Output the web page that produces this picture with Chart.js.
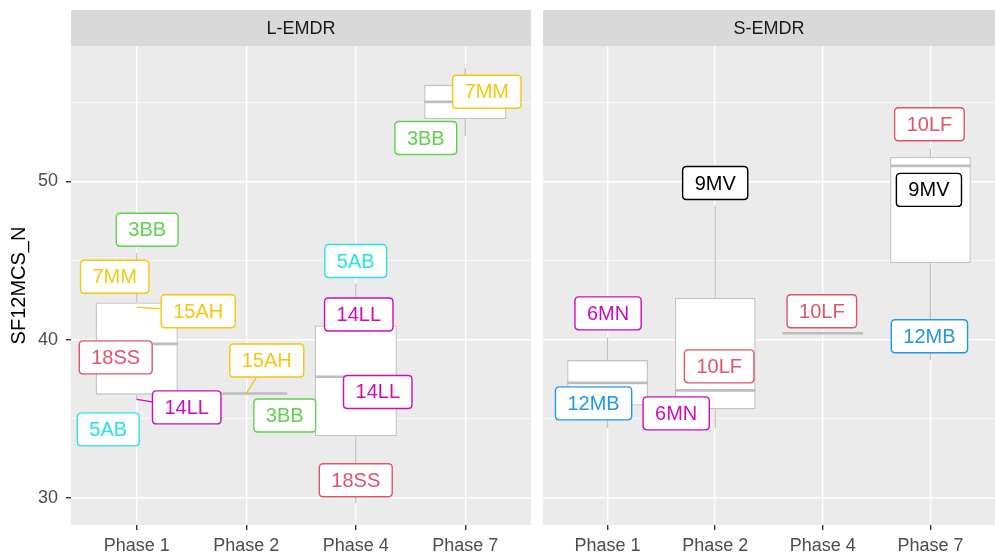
<!DOCTYPE html>
<html>
<head>
<meta charset="utf-8">
<script src="https://cdn.jsdelivr.net/npm/chart.js@4/dist/chart.umd.min.js"></script>
<style>
  html, body { margin: 0; padding: 0; background: #fff; }
  #wrap { position: relative; width: 995px; height: 555px; }
  canvas { position: absolute; top: 0; }
</style>
</head>
<body>
<div id="wrap">
  <canvas id="left" width="531" height="555" style="left:0"></canvas>
  <canvas id="right" width="464" height="555" style="left:531px"></canvas>
</div>
<script>
const phases = ['Phase 1', 'Phase 2', 'Phase 4', 'Phase 7'];
const panels = ['L-EMDR', 'S-EMDR'];
const yTicks = [30, 40, 50];
const yMinor = [35, 45, 55];

// L-EMDR observations (phase index 1..4, participant, score)
const lPhase = [1, 1, 1, 1, 1, 1, 2, 2, 3, 3, 3, 3, 4, 4];
const lId = ['3BB', '7MM', '15AH', '18SS', '14LL', '5AB', '15AH', '3BB', '5AB', '14LL', '14LL', '18SS', '7MM', '3BB'];
const lValue = [45.49, 42.46, 42.05, 37.43, 36.23, 36.17, 36.6, 36.6, 43.55, 40.01, 35.31, 29.67, 57.18, 52.87];

// S-EMDR observations
const sPhase = [1, 1, 2, 2, 2, 3, 4, 4, 4];
const sId = ['6MN', '12MB', '9MV', '10LF', '6MN', '10LF', '10LF', '9MV', '12MB'];
const sValue = [40.15, 34.4, 48.48, 36.8, 34.4, 40.41, 52.1, 50.98, 38.7];

// where the repelled labels sit, relative to their point (px)
const lNudge = [[10.5, -23], [-22, -24], [61.5, 4], [-21, -23], [50, 8], [-28.5, 29], [20.5, -33], [38.5, 22],
                [0, -22.5], [3, -25], [22, -22], [0, -23], [21.5, 24], [-39.5, 2]];
const sNudge = [[0.5, -24], [-14, -25], [0, -22.5], [4, -24], [-39, -15], [-1, -22], [-1, -24], [-1.5, 24], [-1, -24]];

const idColors = {
    '9MV': '#000000', '18SS': '#DF536B', '10LF': '#DF536B', '3BB': '#61D04F', '12MB': '#2297E6',
    '5AB': '#28E2E5', '14LL': '#CD0BBC', '6MN': '#CD0BBC', '7MM': '#F5C710', '15AH': '#F5C710'
};

const FONT = '"Liberation Sans", Arial, sans-serif';
const boxLine = '#C2C2C2';

const allValues = lValue.concat(sValue);
const dMin = Math.min(...allValues), dMax = Math.max(...allValues);
const yMin = dMin - (dMax - dMin) * 0.05;
const yMax = dMax + (dMax - dMin) * 0.05;

function quantile(sorted, p) {
    const h = (sorted.length - 1) * p;
    const lo = Math.floor(h);
    const hi = Math.min(lo + 1, sorted.length - 1);
    return sorted[lo] + (h - lo) * (sorted[hi] - sorted[lo]);
}

function boxStats(phaseArr, valArr) {
    return phases.map((p, i) => {
        const v = valArr.filter((_, k) => phaseArr[k] === i + 1).sort((a, b) => a - b);
        const q1 = quantile(v, 0.25), med = quantile(v, 0.5), q3 = quantile(v, 0.75);
        const iqr = q3 - q1;
        const inside = v.filter(d => d >= q1 - 1.5 * iqr && d <= q3 + 1.5 * iqr);
        return { q1, med, q3, lo: Math.min(...inside), hi: Math.max(...inside) };
    });
}

function roundRect(ctx, x, y, w, h, r) {
    ctx.beginPath();
    ctx.moveTo(x + r, y);
    ctx.lineTo(x + w - r, y);
    ctx.quadraticCurveTo(x + w, y, x + w, y + r);
    ctx.lineTo(x + w, y + h - r);
    ctx.quadraticCurveTo(x + w, y + h, x + w - r, y + h);
    ctx.lineTo(x + r, y + h);
    ctx.quadraticCurveTo(x, y + h, x, y + h - r);
    ctx.lineTo(x, y + r);
    ctx.quadraticCurveTo(x, y, x + r, y);
    ctx.closePath();
}

function makeChart(canvasId, panelName, phaseArr, idArr, valArr, nudges, isFirst) {
    const stats = boxStats(phaseArr, valArr);

    const panelPlugin = {
        id: 'panel',
        beforeDraw(chart) {
            const { ctx, chartArea: a } = chart;
            ctx.save();
            ctx.fillStyle = '#EBEBEB';
            ctx.fillRect(a.left, a.top, a.right - a.left, a.bottom - a.top);
            ctx.fillStyle = '#D9D9D9';
            ctx.fillRect(a.left, 10, a.right - a.left, a.top - 10);
            ctx.fillStyle = '#1A1A1A';
            ctx.font = '18px ' + FONT;
            ctx.textAlign = 'center';
            ctx.textBaseline = 'middle';
            ctx.fillText(panelName, (a.left + a.right) / 2, (10 + a.top) / 2 + 1);
            ctx.restore();
        },
        beforeDatasetsDraw(chart) {
            const { ctx, scales: { x, y } } = chart;
            ctx.save();
            ctx.strokeStyle = boxLine;
            ctx.lineWidth = 1.3;
            stats.forEach((s, i) => {
                const px = x.getPixelForValue(i + 1);
                ctx.beginPath();
                ctx.moveTo(px, y.getPixelForValue(s.hi));
                ctx.lineTo(px, y.getPixelForValue(s.q3));
                ctx.moveTo(px, y.getPixelForValue(s.q1));
                ctx.lineTo(px, y.getPixelForValue(s.lo));
                ctx.stroke();
            });
            ctx.restore();
        },
        afterDatasetsDraw(chart) {
            const { ctx, scales: { x, y } } = chart;
            const meta = chart.getDatasetMeta(0);
            ctx.save();
            // medians
            ctx.strokeStyle = '#BDBDBD';
            ctx.lineWidth = 2.6;
            stats.forEach((s, i) => {
                const bar = meta.data[i];
                const py = y.getPixelForValue(s.med);
                ctx.beginPath();
                ctx.moveTo(bar.x - bar.width / 2, py);
                ctx.lineTo(bar.x + bar.width / 2, py);
                ctx.stroke();
            });

            // labels
            ctx.font = '20px ' + FONT;
            const items = idArr.map((id, i) => {
                const px = x.getPixelForValue(phaseArr[i]);
                const py = y.getPixelForValue(valArr[i]);
                const w = ctx.measureText(id).width + 24, h = 33;
                return { id, px, py, cx: px + nudges[i][0], cy: py + nudges[i][1], w, h, color: idColors[id] };
            });
            items.forEach(r => {
                const l = r.cx - r.w / 2, rr = r.cx + r.w / 2, t = r.cy - r.h / 2, b = r.cy + r.h / 2;
                const nx = Math.max(l, Math.min(r.px, rr)), ny = Math.max(t, Math.min(r.py, b));
                if (Math.hypot(r.px - nx, r.py - ny) < 14) return;
                const dx = r.cx - r.px, dy = r.cy - r.py;
                let te = 0;
                if (dx) te = Math.max(te, ((dx > 0 ? l : rr) - r.px) / dx);
                if (dy) te = Math.max(te, ((dy > 0 ? t : b) - r.py) / dy);
                ctx.strokeStyle = r.color;
                ctx.lineWidth = 1.3;
                ctx.beginPath();
                ctx.moveTo(r.px, r.py);
                ctx.lineTo(r.px + dx * te, r.py + dy * te);
                ctx.stroke();
            });
            items.forEach(r => {
                roundRect(ctx, r.cx - r.w / 2, r.cy - r.h / 2, r.w, r.h, 4);
                ctx.fillStyle = '#FFFFFF';
                ctx.fill();
                ctx.strokeStyle = r.color;
                ctx.lineWidth = 1.4;
                ctx.stroke();
                ctx.fillStyle = r.color;
                ctx.textAlign = 'center';
                ctx.textBaseline = 'middle';
                ctx.fillText(r.id, r.cx, r.cy + 1);
            });
            ctx.restore();
        }
    };

    return new Chart(document.getElementById(canvasId), {
        type: 'bar',
        data: {
            datasets: [{
                data: stats.map((s, i) => ({ x: i + 1, y: [s.q1, s.q3] })),
                backgroundColor: '#FFFFFF',
                borderColor: boxLine,
                borderWidth: 1.3,
                borderSkipped: false,
                barPercentage: 1,
                categoryPercentage: 0.75
            }]
        },
        options: {
            responsive: false,
            animation: false,
            devicePixelRatio: 1,
            layout: { padding: { top: 46, left: 0, right: 0, bottom: 0 } },
            scales: {
                x: {
                    type: 'linear',
                    min: 0.4,
                    max: 4.6,
                    offset: false,
                    afterBuildTicks: s => { s.ticks = phases.map((p, i) => ({ value: i + 1 })); },
                    afterFit: s => { s.height = 30; },
                    border: { display: false },
                    grid: { offset: false, color: '#FFFFFF', lineWidth: 1.4, tickLength: 5, tickColor: '#333333' },
                    ticks: {
                        callback: v => phases[v - 1],
                        color: '#4D4D4D',
                        font: { size: 18, family: FONT },
                        padding: 5,
                        maxRotation: 0,
                        autoSkip: false
                    }
                },
                y: {
                    min: yMin,
                    max: yMax,
                    afterBuildTicks: s => {
                        s.ticks = yTicks.concat(yMinor).sort((a, b) => a - b).map(v => ({ value: v }));
                    },
                    afterFit: s => { s.width = isFirst ? 71 : 12; },
                    border: { display: false },
                    grid: {
                        color: '#FFFFFF',
                        lineWidth: c => yTicks.includes(c.tick.value) ? 1.4 : 0.7,
                        drawTicks: isFirst,
                        tickLength: 5,
                        tickColor: c => yTicks.includes(c.tick.value) ? '#333333' : 'rgba(0,0,0,0)'
                    },
                    ticks: {
                        display: isFirst,
                        callback: v => yTicks.includes(v) ? String(v) : '',
                        color: '#4D4D4D',
                        font: { size: 18, family: FONT },
                        padding: 8
                    },
                    title: {
                        display: isFirst,
                        text: 'SF12MCS_N',
                        color: '#000000',
                        font: { size: 20, family: FONT },
                        padding: { top: 7, bottom: 0 }
                    }
                }
            },
            plugins: {
                legend: { display: false },
                tooltip: { enabled: false }
            }
        },
        plugins: [panelPlugin]
    });
}

makeChart('left', panels[0], lPhase, lId, lValue, lNudge, true);
makeChart('right', panels[1], sPhase, sId, sValue, sNudge, false);
</script>
</body>
</html>
